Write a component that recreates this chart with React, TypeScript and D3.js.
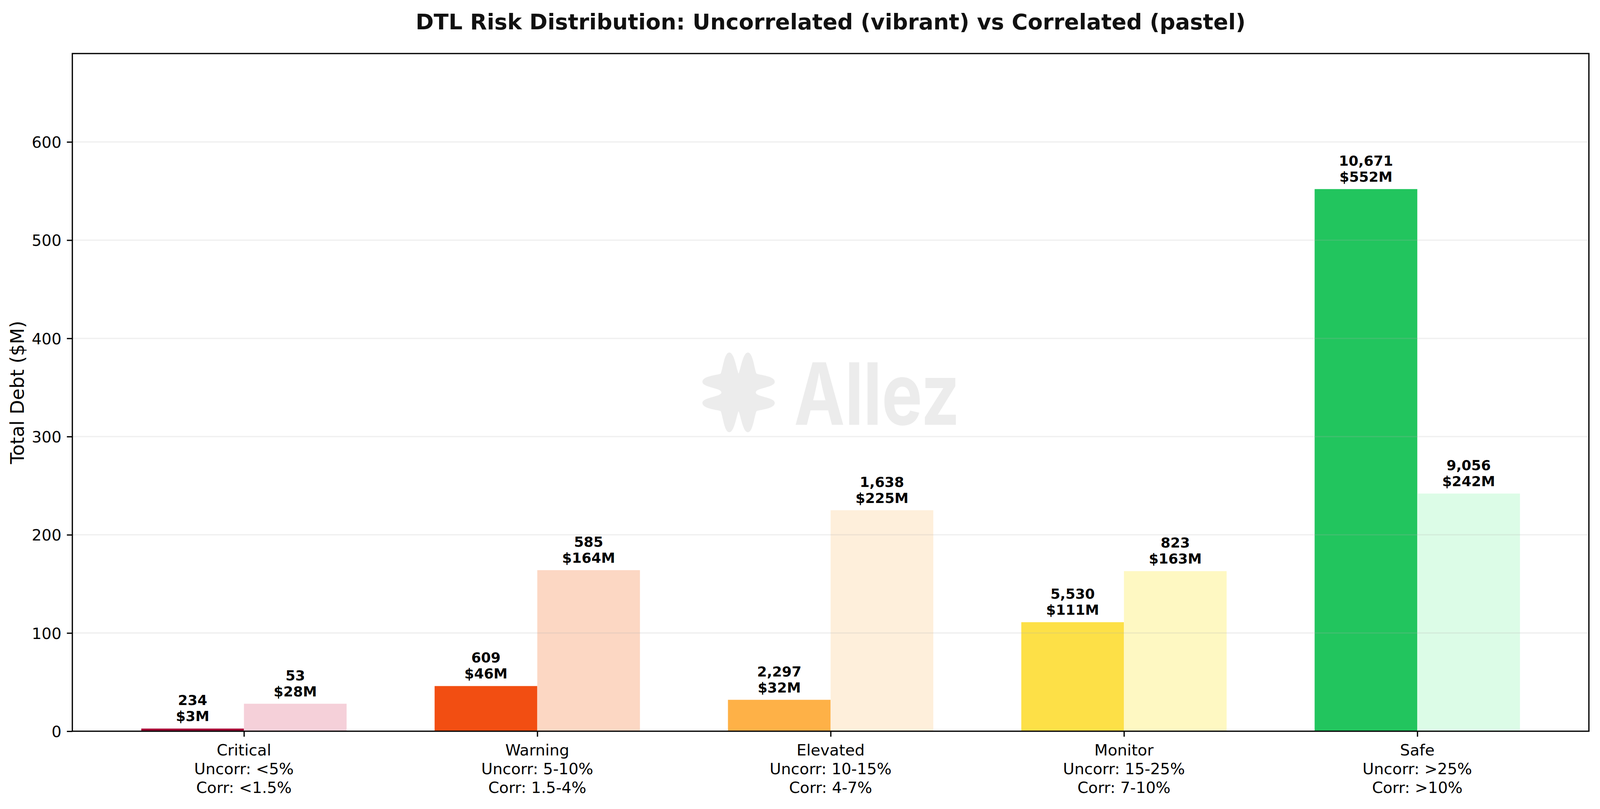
import React, { useRef, useEffect } from 'react';
import * as d3 from 'd3';

const categories = ['Critical', 'Warning', 'Elevated', 'Monitor', 'Safe'];
const uncorrRanges = ['<5%', '5-10%', '10-15%', '15-25%', '>25%'];
const corrRanges = ['<1.5%', '1.5-4%', '4-7%', '7-10%', '>10%'];

// total debt in $M
const uncorrDebt = [2.7, 46, 32, 111, 552];
const corrDebt = [28, 164, 225, 163, 242];

// number of loans
const uncorrCount = [234, 609, 2297, 5530, 10671];
const corrCount = [53, 585, 1638, 823, 9056];

const vibrantColors = ['#a50034', '#f24e12', '#feb147', '#fde047', '#22c55e'];
const pastelColors = ['#f5d0d9', '#fcd7c3', '#feefdb', '#fef8c2', '#dcfce7'];

const LOGO_PATH =
  'M0,-48 C6,-60 12,-102 26,-102 C40,-102 44,-60 50,-48 ' +
  'C60,-44 101,-42 101,-27 C101,-12 48,-12 48,0 C48,12 101,12 101,27 ' +
  'C101,42 60,44 50,48 C44,60 40,102 26,102 C12,102 6,60 0,48 ' +
  'C-6,60 -12,102 -26,102 C-40,102 -44,60 -50,48 ' +
  'C-60,44 -101,42 -101,27 C-101,12 -48,12 -48,0 C-48,-12 -101,-12 -101,-27 ' +
  'C-101,-42 -60,-44 -50,-48 C-44,-60 -40,-102 -26,-102 C-12,-102 -6,-60 0,-48 Z';

// reference figure size (px)
const W = 4468;
const H = 2070;

const App: React.FC = () => {
  const svgRef = useRef<SVGSVGElement | null>(null);

  useEffect(() => {
    document.body.style.margin = '0';
    document.body.style.overflow = 'hidden';
    if (!svgRef.current) return;

    // fit the figure to whatever viewport we actually get
    const box = svgRef.current.getBoundingClientRect();
    const vw = box.width || W;
    const vh = box.height || H;
    const sx = vw / W;
    const sy = vh / H;
    const k = Math.sqrt(sx * sy);
    const X = (v: number) => v * sx;
    const Y = (v: number) => v * sy;

    const left = X(202);
    const right = X(4437);
    const top = Y(137);
    const bottom = Y(1871);
    const pt = (300 / 72) * k;
    const font = '"DejaVu Sans", sans-serif';
    const barW = 0.35;

    const svg = d3.select(svgRef.current).attr('width', vw).attr('height', vh);
    svg.selectAll('*').remove();
    svg.append('rect').attr('width', vw).attr('height', vh).attr('fill', '#fff');

    const x = d3.scaleLinear().domain([-0.585, categories.length - 1 + 0.585]).range([left, right]);
    const maxVal = d3.max([...uncorrDebt, ...corrDebt]) || 1;
    const y = d3.scaleLinear().domain([0, maxVal * 1.25]).range([bottom, top]);

    // watermark
    const cx = (left + right) / 2;
    const cy = (top + bottom) / 2;
    const wm = svg.append('g').attr('fill', '#ececec');
    wm.append('path')
      .attr('d', LOGO_PATH)
      .attr('transform', `translate(${cx - X(257)},${cy}) scale(${sx},${sy})`);
    wm.append('text')
      .attr('x', cx - X(102))
      .attr('y', cy + Y(83))
      .attr('font-family', 'Inter, Roboto, sans-serif')
      .attr('font-weight', 700)
      .attr('font-size', 220 * sy)
      .attr('textLength', X(463))
      .attr('lengthAdjust', 'spacingAndGlyphs')
      .text('Allez');

    // bars
    const idx = d3.range(categories.length);
    svg.append('g')
      .selectAll('rect')
      .data(idx)
      .join('rect')
      .attr('x', (i) => x(i - barW))
      .attr('width', (i) => x(i) - x(i - barW))
      .attr('y', (i) => y(uncorrDebt[i]))
      .attr('height', (i) => y(0) - y(uncorrDebt[i]))
      .attr('fill', (i) => vibrantColors[i]);

    svg.append('g')
      .selectAll('rect')
      .data(idx)
      .join('rect')
      .attr('x', (i) => x(i))
      .attr('width', (i) => x(i + barW) - x(i))
      .attr('y', (i) => y(corrDebt[i]))
      .attr('height', (i) => y(0) - y(corrDebt[i]))
      .attr('fill', (i) => pastelColors[i]);

    // grid
    const yTicks = y.ticks(7);
    svg.append('g')
      .selectAll('line')
      .data(yTicks)
      .join('line')
      .attr('x1', left)
      .attr('x2', right)
      .attr('y1', (d) => y(d))
      .attr('y2', (d) => y(d))
      .attr('stroke', '#b0b0b0')
      .attr('stroke-opacity', 0.2)
      .attr('stroke-width', 0.8 * pt);

    // value labels
    const fmt = d3.format(',');
    const addLabels = (vals: number[], counts: number[], offset: number) => {
      const g = svg.append('g')
        .attr('font-family', font)
        .attr('font-weight', 'bold')
        .attr('font-size', 9 * pt)
        .attr('text-anchor', 'middle')
        .attr('fill', '#000');
      idx.forEach((i) => {
        const bx = x(i + offset);
        const by = y(vals[i]) - Y(19);
        const t = g.append('text').attr('x', bx).attr('y', by);
        t.append('tspan').attr('x', bx).attr('dy', -Y(41)).text(fmt(counts[i]));
        t.append('tspan').attr('x', bx).attr('dy', Y(41)).text(`$${Math.round(vals[i])}M`);
      });
    };
    addLabels(uncorrDebt, uncorrCount, -barW / 2);
    addLabels(corrDebt, corrCount, barW / 2);

    // y axis
    const yAxis = d3.axisLeft(y).tickValues(yTicks).tickSize(3.5 * pt).tickPadding(3.5 * pt).tickSizeOuter(0);
    const gy = svg.append('g').attr('transform', `translate(${left},0)`).call(yAxis);
    gy.select('.domain').remove();
    gy.selectAll('line').attr('stroke', '#000').attr('stroke-width', 0.8 * pt);
    gy.selectAll('text')
      .attr('font-family', font)
      .attr('font-size', 10 * pt)
      .attr('fill', '#000')
      .attr('dy', '0.36em');

    // x axis
    const xAxis = d3.axisBottom(x).tickValues(idx).tickFormat(() => '').tickSize(3.5 * pt).tickSizeOuter(0);
    const gx = svg.append('g').attr('transform', `translate(0,${bottom})`).call(xAxis);
    gx.select('.domain').remove();
    gx.selectAll('line').attr('stroke', '#000').attr('stroke-width', 0.8 * pt);

    const xl = svg.append('g')
      .attr('font-family', font)
      .attr('font-size', 10 * pt)
      .attr('text-anchor', 'middle')
      .attr('fill', '#000');
    idx.forEach((i) => {
      const t = xl.append('text').attr('x', x(i)).attr('y', bottom + Y(62));
      t.append('tspan').attr('x', x(i)).attr('dy', 0).text(categories[i]);
      t.append('tspan').attr('x', x(i)).attr('dy', Y(48)).text(`Uncorr: ${uncorrRanges[i]}`);
      t.append('tspan').attr('x', x(i)).attr('dy', Y(48)).text(`Corr: ${corrRanges[i]}`);
    });

    // frame
    svg.append('rect')
      .attr('x', left)
      .attr('y', top)
      .attr('width', right - left)
      .attr('height', bottom - top)
      .attr('fill', 'none')
      .attr('stroke', '#000')
      .attr('stroke-width', 0.8 * pt);

    // axis label
    svg.append('text')
      .attr('transform', `translate(${X(66)},${(top + bottom) / 2}) rotate(-90)`)
      .attr('text-anchor', 'middle')
      .attr('font-family', font)
      .attr('font-size', 12 * pt)
      .attr('fill', '#000')
      .text('Total Debt ($M)');

    // title
    svg.append('text')
      .attr('x', (left + right) / 2)
      .attr('y', Y(75))
      .attr('text-anchor', 'middle')
      .attr('font-family', font)
      .attr('font-weight', 'bold')
      .attr('font-size', 14 * pt)
      .attr('fill', '#111')
      .text('DTL Risk Distribution: Uncorrelated (vibrant) vs Correlated (pastel)');
  }, []);

  return (
    <div style={{ width: '100vw', height: '100vh', overflow: 'hidden' }}>
      <svg ref={svgRef} style={{ display: 'block', width: '100%', height: '100%' }}></svg>
    </div>
  );
};

export default App;
